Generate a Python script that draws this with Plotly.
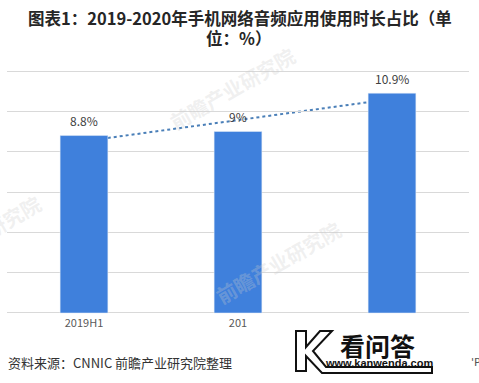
import numpy as np
import plotly.graph_objects as go

# ---- data ----
tick_labels = ["2019H1", "201", ""]
values = [8.8, 9, 10.9]
value_labels = ["8.8%", "9%", "10.9%"]
title_line1 = "图表1：2019-2020年手机网络音频应用使用时长占比（单"
title_line2 = "位：%）"
source_text = "资料来源：CNNIC 前瞻产业研究院整理"

xs = list(range(len(values)))
BAR = "#3f80dc"
CJK = "Noto Sans CJK SC"

fig = go.Figure()
fig.add_trace(go.Bar(x=xs, y=values, marker_color=BAR, width=0.31,
                     hoverinfo="skip", showlegend=False))

# linear trendline (least-squares fit of the series), drawn behind the bars
slope, intercept = np.polyfit(xs, values, 1)
fig.add_shape(type="line", xref="x", yref="y",
              x0=xs[0], x1=xs[-1],
              y0=intercept + slope * xs[0], y1=intercept + slope * xs[-1],
              line=dict(color="#4a7fb8", width=2, dash="dot"), layer="below")

W, H = 479, 383
L, R, T, B = 7, 10, 69, 68
pw, ph = W - L - R, H - T - B

def px(xp):
    return (xp - L) / pw

def py(yp):
    return (H - B - yp) / ph

ann = []
for x, v, t in zip(xs, values, value_labels):
    ann.append(dict(x=x, y=v, xref="x", yref="y", text=t, showarrow=False,
                    yshift=15, font=dict(family=CJK, size=12, color="#404040")))

def pann(text, xp, yp, size, color, family=CJK, xanchor="center", angle=0):
    ann.append(dict(x=px(xp), y=py(yp), xref="paper", yref="paper", text=text,
                    showarrow=False, xanchor=xanchor, yanchor="middle", textangle=angle,
                    font=dict(family=family, size=size, color=color)))

# faint watermarks
for xp, yp in [(232, 88), (-22, 236), (278, 262)]:
    pann("<b>前瞻产业研究院</b>", xp, yp, 20, "rgba(205,205,205,0.3)", angle=-30)

# title
pann(f"<b>{title_line1}</b>", 239.5, 18, 16.5, "#262626")
pann(f"<b>{title_line2}</b>", 238, 38, 16.5, "#262626")
# source
pann(source_text, 6, 362, 13, "#333333", xanchor="left")
pann("'P", 469, 362, 11, "#555555", family="DejaVu Sans", xanchor="left")
# overlay logo text
pann("<b>看问答</b>", 377, 345, 25, "#111111")
pann("<b>www.kanwenda.com</b>", 379, 363, 11, "#111111", family="Liberation Sans")

# logo "K" outline
k_path = (f"M {px(296)},{py(331)} L {px(306)},{py(331)} L {px(306)},{py(347)} "
          f"L {px(320)},{py(331)} L {px(332)},{py(331)} L {px(313)},{py(351)} "
          f"L {px(326)},{py(367)} L {px(432)},{py(367)} L {px(432)},{py(373)} "
          f"L {px(322)},{py(373)} L {px(306)},{py(356)} L {px(306)},{py(371)} "
          f"L {px(296)},{py(371)} Z")
fig.add_shape(type="path", xref="paper", yref="paper", path=k_path,
              line=dict(color="#111111", width=2), fillcolor="white", layer="above")

fig.update_layout(
    width=W, height=H,
    margin=dict(l=L, r=R, t=T, b=B, autoexpand=False),
    paper_bgcolor="white", plot_bgcolor="white",
    annotations=ann,
    xaxis=dict(range=[-0.5, 2.5], tickvals=xs, ticktext=tick_labels,
               showgrid=False, zeroline=False, showline=False, ticks="",
               tickfont=dict(family=CJK, size=11, color="#595959"), fixedrange=True),
    yaxis=dict(range=[-0.1, 12.1], tickvals=[0, 2, 4, 6, 8, 10, 12], showticklabels=False,
               showgrid=True, gridcolor="#d9d9d9", gridwidth=1,
               zeroline=False, showline=False, fixedrange=True),
)
fig.write_html("out.html", config={"displayModeBar": False},
               post_script="document.body.style.margin='0';document.body.style.overflow='hidden';")
